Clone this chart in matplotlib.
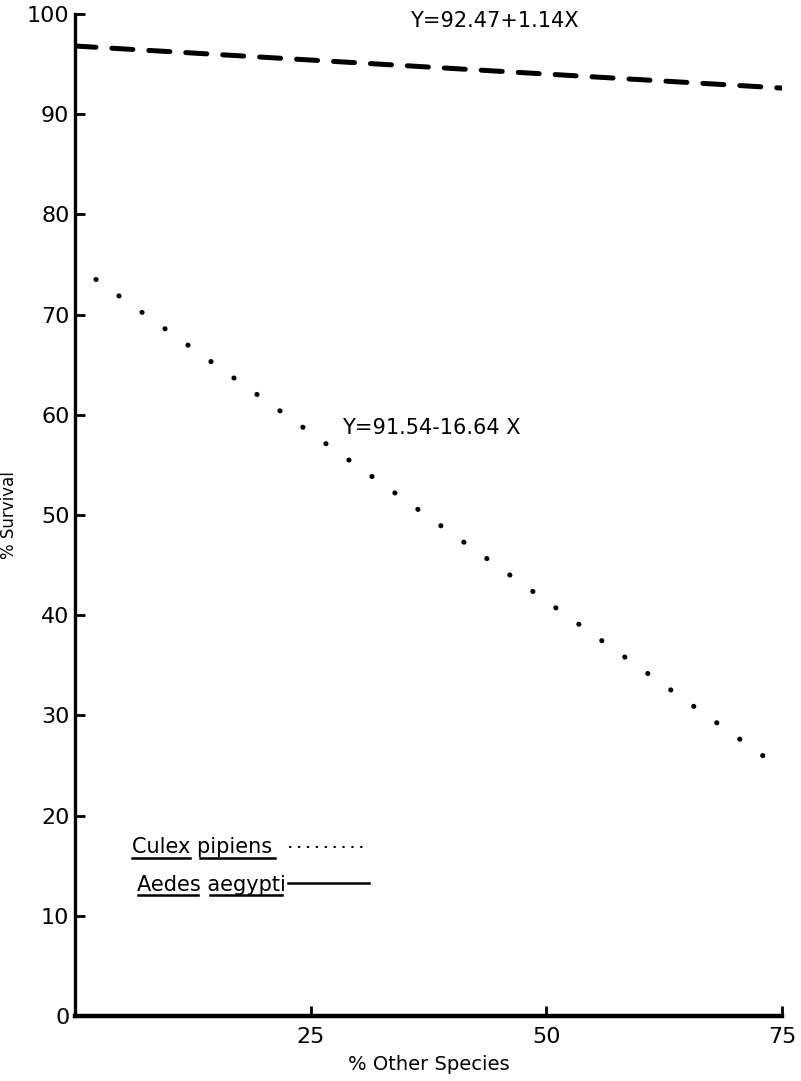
import numpy as np
import matplotlib
matplotlib.use('Agg')
import matplotlib.pyplot as plt

# regression lines (x = % other species)
x_ends = [0, 75]
aedes_y = [96.8, 92.6]
culex_y = [75.0, 24.6]

x_ticks = [25, 50, 75]
y_ticks = [0, 10, 20, 30, 40, 50, 60, 70, 80, 90, 100]

aedes_eq = "Y=92.47+1.14X"
culex_eq = "Y=91.54-16.64 X"

plt.rcParams['font.family'] = ['DejaVu Sans']

fig = plt.figure(figsize=(8.01, 10.81), dpi=100)
ax = fig.add_axes([0.0936, 0.0601, 0.883, 0.927])

ax.plot(x_ends, aedes_y, color='black', lw=3.6, linestyle=(0, (4.2, 3.2)),
        dash_capstyle='round', solid_capstyle='round')
ax.plot(x_ends, culex_y, color='black', lw=3.6, linestyle=(0.5, (0.05, 5.6)),
        dash_capstyle='round')

ax.set_xlim(0, 75)
ax.set_ylim(0, 100)
ax.set_xticks(x_ticks)
ax.set_yticks(y_ticks)
ax.tick_params(direction='in', length=7, width=2, labelsize=16, pad=4)
ax.tick_params(axis='x', pad=8)

for s in ['top', 'right']:
    ax.spines[s].set_visible(False)
ax.spines['left'].set_linewidth(2.4)
ax.spines['bottom'].set_linewidth(3.2)

ax.set_xlabel('% Other Species', fontsize=14, labelpad=6)
ax.set_ylabel('% Survival', fontsize=12, labelpad=6)

ax.text(35.5, 99.3, aedes_eq, fontsize=15, va='center', ha='left')
ax.text(28.3, 58.7, culex_eq, fontsize=15, va='center', ha='left')

# hand-drawn style legend
ax.text(6.0, 16.9, 'Culex pipiens', fontsize=15, va='center', ha='left')
ax.text(6.6, 13.1, 'Aedes aegypti', fontsize=15, va='center', ha='left')
ax.plot([6.0, 12.2], [15.8, 15.8], color='black', lw=1.8)
ax.plot([13.3, 21.2], [15.8, 15.8], color='black', lw=1.8)
ax.plot([6.7, 13.0], [12.1, 12.1], color='black', lw=1.8)
ax.plot([14.3, 22.0], [12.1, 12.1], color='black', lw=1.8)
ax.plot([22.8, 31.2], [16.9, 16.9], color='black', lw=1.6,
        linestyle=(0, (0.2, 3.8)), dash_capstyle='round')
ax.plot([22.6, 31.2], [13.3, 13.3], color='black', lw=1.8)

fig.savefig('out.png', dpi=100)
